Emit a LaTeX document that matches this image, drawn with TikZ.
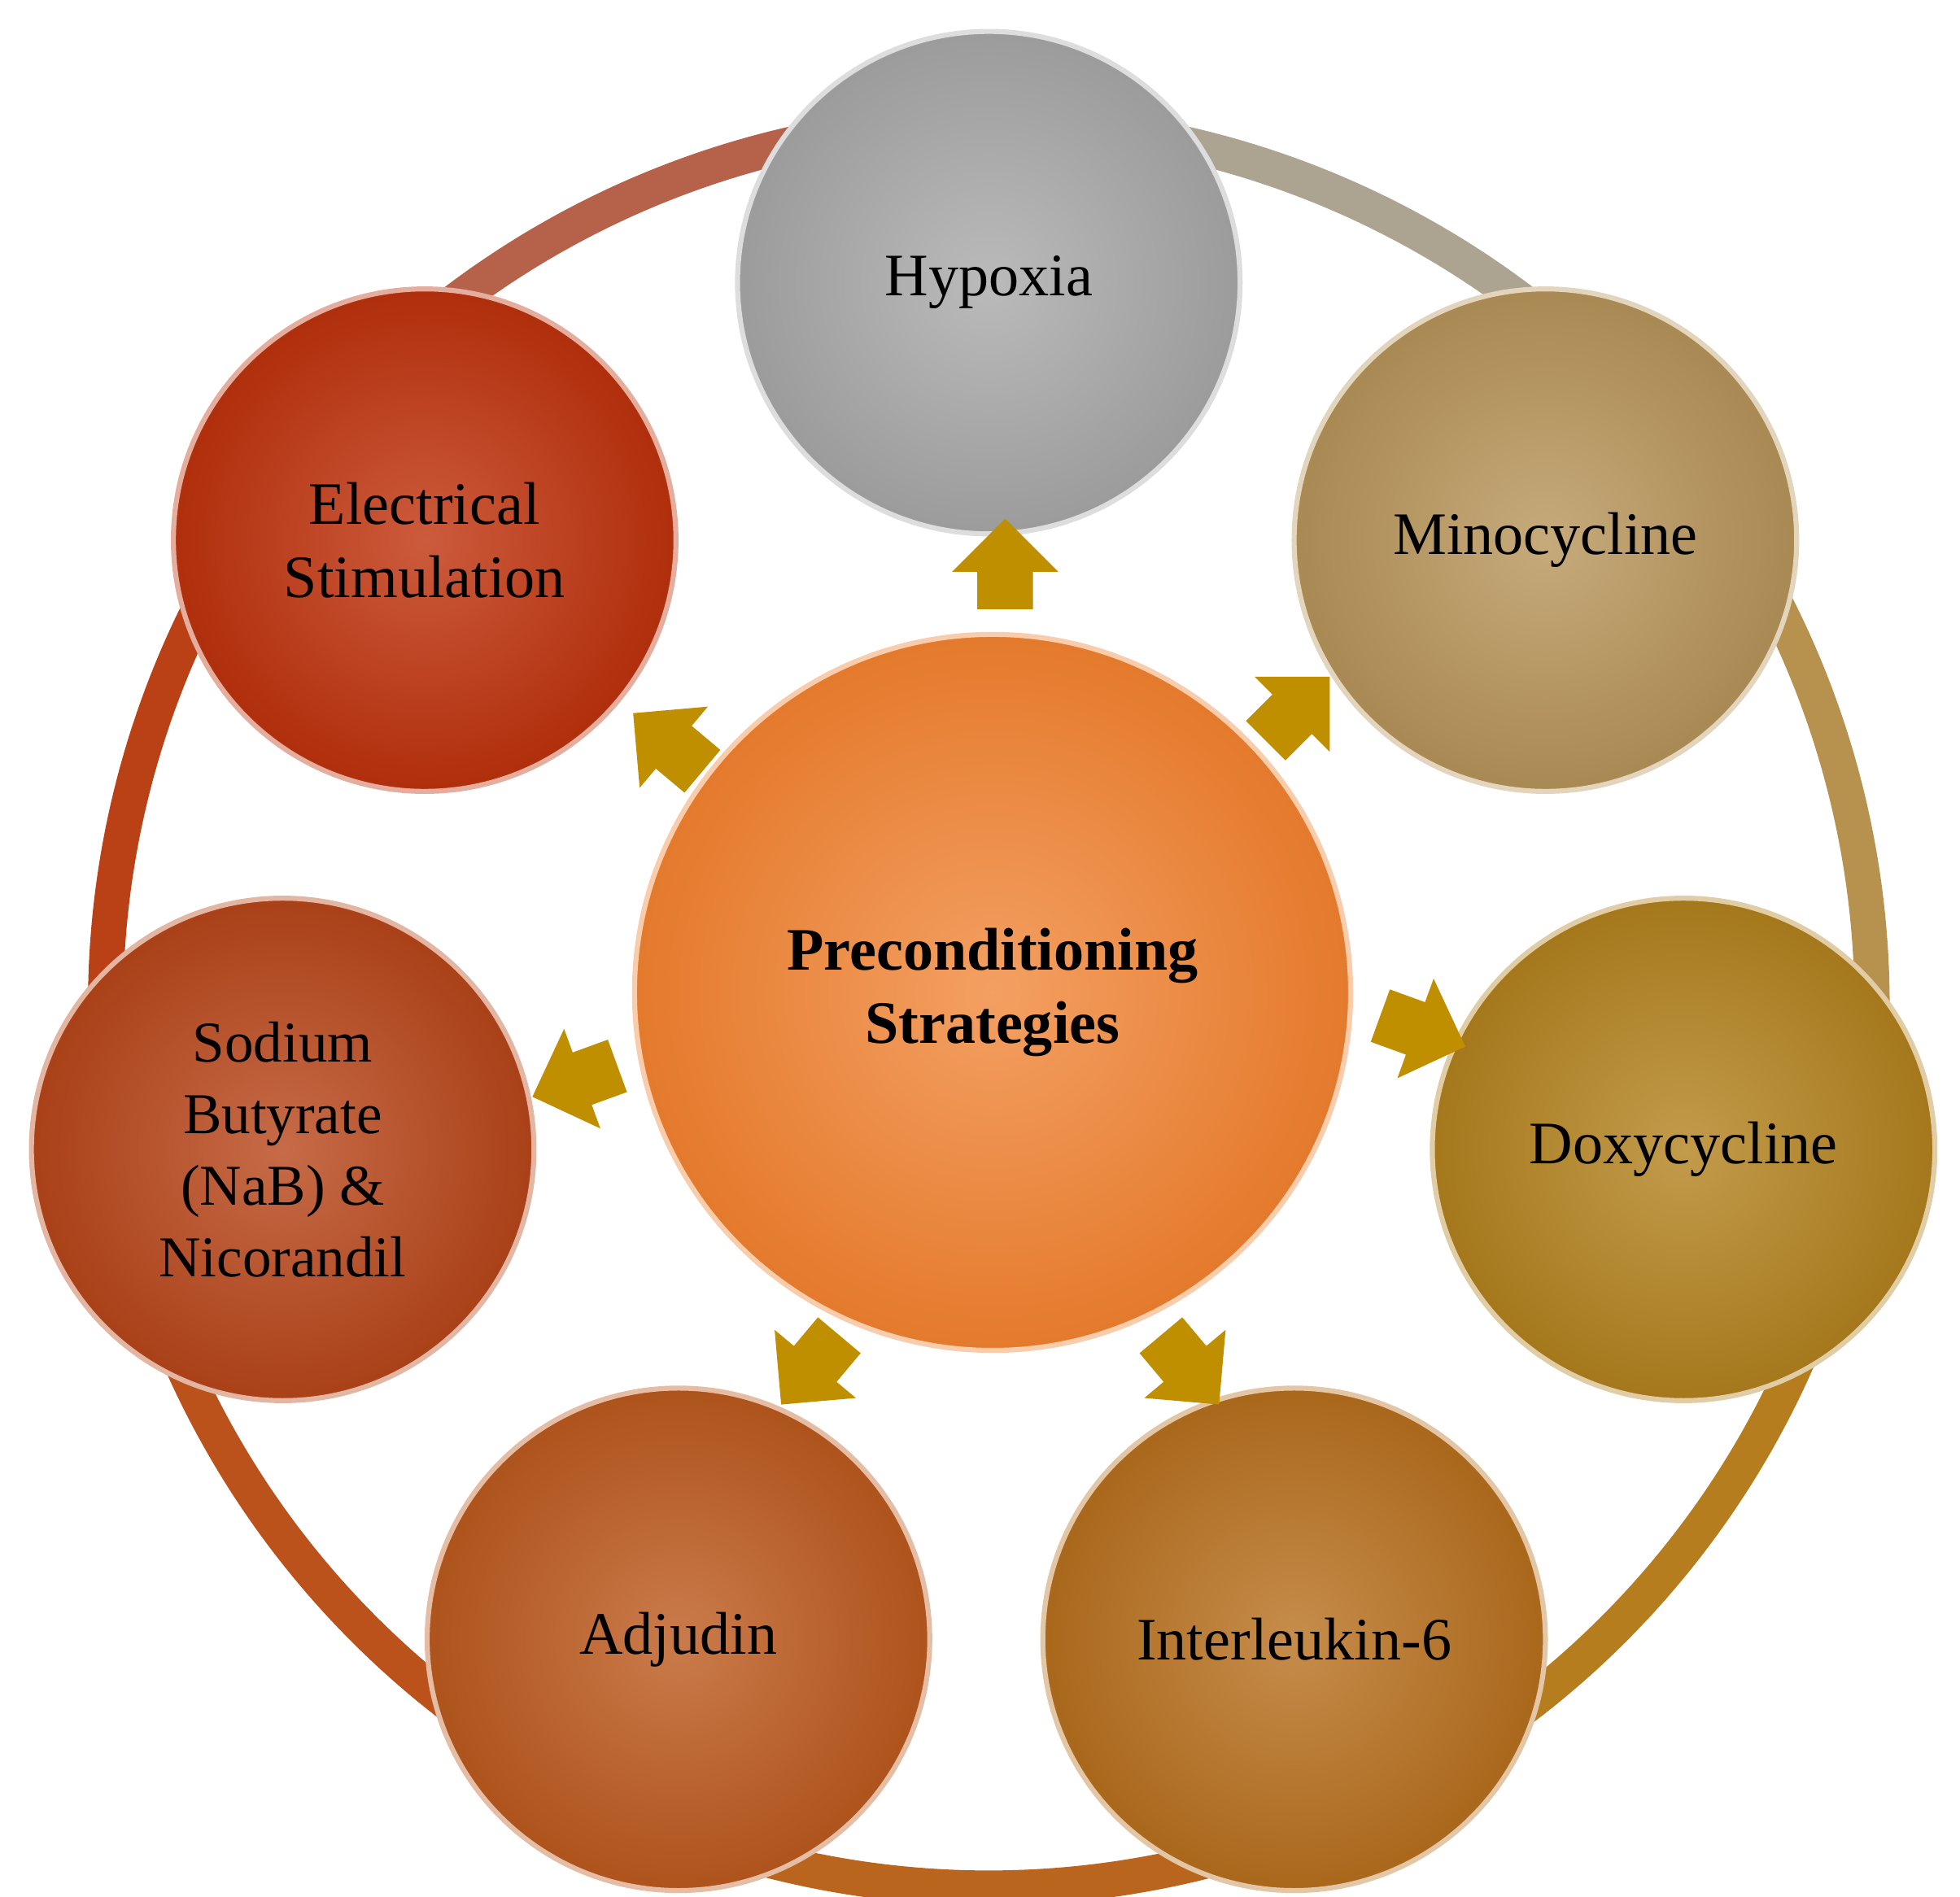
\documentclass[tikz,border=0pt]{standalone}
\usepackage{fontspec}
\setmainfont{Liberation Serif}
\usetikzlibrary{shapes.arrows}
\definecolor{cH}{HTML}{A9A9A9}
\definecolor{cM}{HTML}{B8955A}
\definecolor{cD}{HTML}{B3821E}
\definecolor{cI}{HTML}{B8701E}
\definecolor{cA}{HTML}{BD5A1E}
\definecolor{cS}{HTML}{B8461A}
\definecolor{cE}{HTML}{BF320C}
\definecolor{cC}{HTML}{F0802E}
\definecolor{cArr}{HTML}{BF8F00}
\begin{document}
\begin{tikzpicture}[x=1pt,y=-1pt,
  ball/.style={circle,minimum size=400pt,inner sep=0pt,align=center,
    inner color=#1!80!white,outer color=#1!92!black,draw=#1!40!white,line width=4pt,
    font=\fontsize{48}{58}\selectfont},
  blk/.style={single arrow,fill=cArr,minimum height=72pt,text width=0pt,
    inner xsep=0pt,inner ysep=22pt,single arrow head extend=20pt,single arrow tip angle=90}]
\useasboundingbox (0,0) rectangle (1560,1510);
% ring segments
\def\R{703}
\foreach \a/\b/\c in {-90/-40/cH!70!cM, -40/10/cM!80!cD, 10/60/cD!70!cI, 60/110/cI!50!cA, 110/160/cA!60!cS, 160/215/cS!70!cE, 215/270/cE!60!cH}{
  \draw[\c,line width=28pt] (787,800) ++(\a:\R) arc[start angle=\a,end angle=\b,radius=\R];
}
\node[ball=cC,minimum size=570pt,inner color=cC!75!white,outer color=cC!95!black,font=\bfseries\fontsize{48}{58}\selectfont] (c) at (790,790) {Preconditioning\\Strategies};
\node[ball=cH] (h) at (787,225) {Hypoxia};
\node[ball=cM] (m) at (1230,430) {Minocycline};
\node[ball=cD] (d) at (1340,915) {Doxycycline};
\node[ball=cI] (i) at (1030,1305) {Interleukin-6};
\node[ball=cA] (a) at (540,1305) {Adjudin};
\node[ball=cS,font=\fontsize{46}{57}\selectfont] (s) at (225,915) {Sodium\\Butyrate\\(NaB) \&\\Nicorandil};
\node[ball=cE] (e) at (338,430) {Electrical\\Stimulation};
\node[blk,rotate=90] (a1) at (800,460) {};
\node[blk,rotate=45] (a2) at (1025,572) {};
\node[blk,rotate=-20] (a3) at (1122,817) {};
\node[blk,rotate=-50] (a4) at (940,1082) {};
\node[blk,rotate=-130] (a5) at (652,1082) {};
\node[blk,rotate=200] (a6) at (468,857) {};
\node[blk,rotate=140] (a7) at (540,598) {};
\end{tikzpicture}
\end{document}
